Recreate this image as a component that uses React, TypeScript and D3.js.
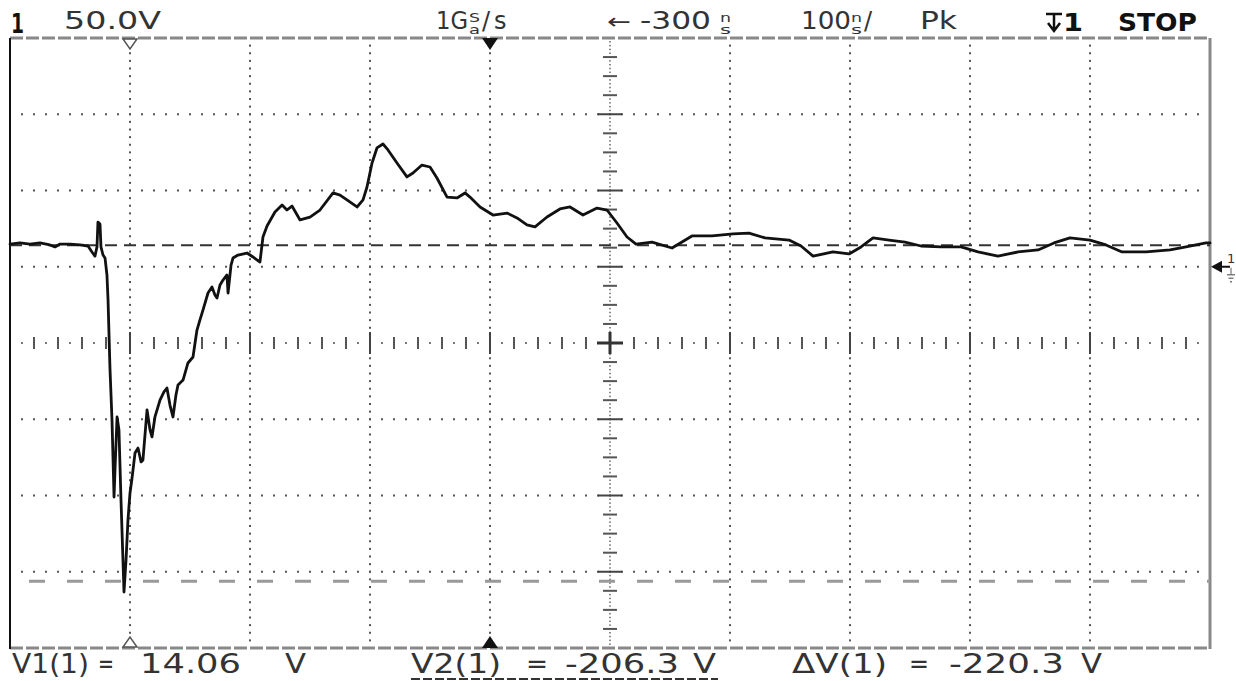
import React from 'react';
import * as d3 from 'd3';

// Captured channel 1 trace: time (ns) and voltage (V)
const times = [
  -800, -791.7, -783.3, -775, -766.7, -762.5, -758.3, -750, -741.7, -735,
  -731.7, -729.2, -727.5, -726.7, -725, -724.2, -722.5, -720.8, -719.2, -718.3,
  -716.7, -715, -713.3, -712.5, -710.8, -709.2, -707.5, -705, -703.3, -701.7,
  -700, -698.3, -695.8, -693.3, -690.8, -689.2, -685.8, -683.3, -681.7, -679.2,
  -675, -671.7, -669.2, -666.7, -664.2, -661.7, -660, -655.8, -651.7, -647.5,
  -644.2, -641.7, -639.2, -635, -631.7, -629.2, -627.5, -625, -622.5, -619.2,
  -618.3, -615.8, -614.2, -610, -602.5, -597.5, -591.7, -589.2, -585.8, -579.2,
  -573.3, -569.2, -565, -558.3, -550, -541.7, -530.8, -525, -519.2, -510.8,
  -505.8, -502.5, -498.3, -494.2, -489.2, -485, -477.5, -469.2, -464.2, -456.7,
  -450, -444.2, -435.8, -427.5, -420.8, -416.7, -408.3, -397.5, -385.8, -377.5,
  -369.2, -362.5, -352.5, -341.7, -333.3, -322.5, -310.8, -302.5, -294.2, -285.8,
  -278.3, -265, -248.3, -231.7, -215, -197.5, -184.2, -170.8, -150.8, -140.8,
  -130.8, -114.2, -100.8, -90.8, -80.8, -67.5, -54.2, -40.8, -24.2, -7.5,
  6.7, 23.3, 40, 56.7, 70, 83.3, 100, 113.3, 126.7, 146.7,
  166.7, 180, 196.7, 200,
];
const volts = [
  14.9, 15.6, 14.9, 15.6, 14.3, 13.0, 14.9, 14.9, 14.3, 13.6,
  9.7, 7.0, 13.0, 29.3, 28.0, 13.0, 7.7, 5.7, -5.4, -21.8,
  -66.4, -100.5, -151.0, -133.3, -98.5, -107.0, -152.9, -213.3, -192.3, -166.1,
  -148.4, -138.5, -122.1, -118.9, -128.0, -126.7, -93.9, -107.0, -111.6, -98.5,
  -87.4, -82.1, -79.5, -90.7, -98.5, -84.1, -77.5, -74.3, -63.1, -59.2,
  -41.5, -34.9, -28.4, -17.2, -13.3, -18.5, -20.5, -12.0, -8.7, -5.4,
  -17.2, 1.1, 5.7, 7.7, 9.0, 6.4, 3.1, 19.5, 26.7, 35.9,
  40.5, 37.2, 39.8, 30.7, 32.6, 37.2, 48.4, 47.0, 43.8, 39.2,
  43.8, 52.3, 68.0, 77.9, 80.5, 76.6, 68.0, 58.9, 61.5, 66.7,
  65.4, 58.2, 45.7, 45.1, 48.4, 45.7, 39.2, 33.9, 35.2, 32.0,
  27.4, 26.1, 32.6, 37.9, 39.2, 33.9, 38.5, 37.2, 28.7, 19.5,
  14.9, 16.2, 12.3, 20.2, 20.2, 21.5, 22.1, 18.9, 17.5, 13.6,
  7.0, 9.7, 8.4, 13.0, 18.9, 17.5, 16.2, 13.6, 13.0, 13.0,
  9.7, 7.0, 9.7, 11.0, 15.6, 18.9, 17.5, 14.3, 9.7, 9.7,
  11.0, 13.0, 15.6, 15.6,
];

// Scope settings and cursor readouts
const voltsPerDiv = 50;
const timePerDiv = 100;
const delayNs = -300;
const screenCenterV = -50;
const cursorV1 = 14.06;
const cursorV2 = -206.3;
const deltaV1 = -220.3;

const W = 1236;
const H = 681;
const L = 10;
const R = 1210;
const T = 38;
const B = 648;
const FONT = "'DejaVu Sans', 'Liberation Sans', sans-serif";
const INK = '#333';

function Txt(props: {
  x: number; y: number; w?: number; size: number; bold?: boolean; fill?: string; ls?: number; children: React.ReactNode;
}) {
  const { x, y, w, size, bold, fill, ls, children } = props;
  return (
    <text
      x={x}
      y={y}
      fontFamily={FONT}
      fontSize={size}
      fontWeight={bold ? 700 : 400}
      fill={fill || INK}
      letterSpacing={ls}
      textLength={w}
      lengthAdjust={w ? 'spacingAndGlyphs' : undefined}
    >
      {children}
    </text>
  );
}

export default function App() {
  const x = d3.scaleLinear()
    .domain([delayNs - 5 * timePerDiv, delayNs + 5 * timePerDiv])
    .range([L, R]);
  const y = d3.scaleLinear()
    .domain([screenCenterV - 4 * voltsPerDiv, screenCenterV + 4 * voltsPerDiv])
    .range([B, T]);

  const trace = d3.line<number>()
    .x((_, i) => x(times[i]))
    .y((d) => y(d))(volts) || '';

  const divT = d3.range(1, 10).map((k) => delayNs - 5 * timePerDiv + k * timePerDiv);
  const divV = d3.range(1, 8).map((k) => screenCenterV - 4 * voltsPerDiv + k * voltsPerDiv);

  const dots: React.ReactNode[] = [];
  // dotted horizontal graticule lines
  divV.forEach((v) => {
    if (v === screenCenterV) return;
    d3.range(1, 100).forEach((i) => {
      const t = delayNs - 5 * timePerDiv + i * (timePerDiv / 10);
      dots.push(<rect key={`h${v}_${i}`} x={x(t) - 1} y={y(v) - 1} width={2} height={2} fill="#555" />);
    });
  });
  // dotted vertical graticule lines
  divT.forEach((t) => {
    if (t === delayNs) return;
    d3.range(1, 80).forEach((j) => {
      const v = screenCenterV - 4 * voltsPerDiv + j * (voltsPerDiv / 10);
      dots.push(<rect key={`v${t}_${j}`} x={x(t) - 1} y={y(v) - 1} width={2} height={2} fill="#555" />);
    });
  });
  // center horizontal axis with ticks
  d3.range(1, 100).forEach((i) => {
    const t = delayNs - 5 * timePerDiv + i * (timePerDiv / 10);
    const cx = x(t);
    const cy = y(screenCenterV);
    if (i % 10 === 0) {
      dots.push(<rect key={`ch${i}`} x={cx - 1} y={cy - 11} width={2} height={22} fill="#444" />);
    } else if (i % 2 === 0) {
      dots.push(<rect key={`ch${i}`} x={cx - 1} y={cy - 6} width={2} height={12} fill="#555" />);
    } else {
      dots.push(<rect key={`ch${i}`} x={cx - 1} y={cy - 1} width={2} height={2} fill="#777" />);
    }
  });
  // center vertical axis with ticks
  d3.range(1, 160).forEach((j) => {
    const v = screenCenterV - 4 * voltsPerDiv + j * (voltsPerDiv / 20);
    const cx = x(delayNs);
    const cy = y(v);
    if (j % 20 === 0) {
      dots.push(<rect key={`cv${j}`} x={cx - 12} y={cy - 1} width={24} height={2} fill="#444" />);
    } else if (j % 5 === 0) {
      dots.push(<rect key={`cv${j}`} x={cx - 7} y={cy - 1} width={14} height={2} fill="#555" />);
    } else {
      dots.push(<rect key={`cv${j}`} x={cx - 0.75} y={cy - 0.75} width={1.5} height={1.5} fill="#666" />);
    }
  });

  const cx0 = x(delayNs);
  const cy0 = y(screenCenterV);
  const yG = y(0);
  const yV1 = y(cursorV1);
  const yV2 = y(cursorV2);
  const xMark1 = x(-700);
  const xMark2 = x(-400);

  return (
    <svg
      width={W}
      height={H}
      viewBox={`0 0 ${W} ${H}`}
      style={{ position: 'absolute', left: 0, top: 0, background: '#fff' }}
    >
      <rect x={0} y={0} width={W} height={H} fill="#fff" />
      {dots}
      {/* center cross */}
      <rect x={cx0 - 13} y={cy0 - 1.5} width={26} height={3} fill="#333" />
      <rect x={cx0 - 1.5} y={cy0 - 11} width={3} height={22} fill="#333" />

      {/* frame */}
      <line x1={L} x2={R} y1={T} y2={T} stroke="#888" strokeWidth={3} strokeDasharray="13 3" />
      <line x1={L} x2={R} y1={B} y2={B} stroke="#888" strokeWidth={3} strokeDasharray="13 3" />
      <line x1={L} x2={L} y1={T} y2={B + 1} stroke="#111" strokeWidth={2} />
      <line x1={R} x2={R} y1={T} y2={B + 1} stroke="#888" strokeWidth={3} />

      {/* voltage cursors */}
      <line x1={L} x2={R} y1={yV1} y2={yV1} stroke="#333" strokeWidth={2} strokeDasharray="12 7" />
      <line x1={L} x2={R} y1={yV2} y2={yV2} stroke="#999" strokeWidth={3} strokeDasharray="16 22" strokeDashoffset={19} />

      {/* trace */}
      <path d={trace} fill="none" stroke="#111" strokeWidth={2.8} strokeLinejoin="round" strokeLinecap="round" />

      {/* markers on the top and bottom edges */}
      <path d={`M${xMark1 - 7},${T + 1} L${xMark1 + 7},${T + 1} L${xMark1},${T + 11} Z`} fill="#fff" stroke="#555" strokeWidth={1.5} />
      <path d={`M${xMark1 - 7},${B - 1} L${xMark1 + 7},${B - 1} L${xMark1},${B - 11} Z`} fill="#fff" stroke="#555" strokeWidth={1.5} />
      <path d={`M${xMark2 - 8},${T} L${xMark2 + 8},${T} L${xMark2},${T + 12} Z`} fill="#111" />
      <path d={`M${xMark2 - 8},${B} L${xMark2 + 8},${B} L${xMark2},${B - 12} Z`} fill="#111" />

      {/* ground reference marker */}
      <path d={`M${R + 1},${yG} L${R + 12},${yG - 6} L${R + 12},${yG + 6} Z`} fill="#111" />
      <line x1={R + 12} x2={R + 20} y1={yG} y2={yG} stroke="#111" strokeWidth={2} />
      <Txt x={R + 17} y={yG - 4} size={13}>1</Txt>
      <line x1={R + 21} x2={R + 21} y1={yG + 1} y2={yG + 8} stroke="#777" strokeWidth={1.2} />
      <line x1={R + 17} x2={R + 25} y1={yG + 8} y2={yG + 8} stroke="#777" strokeWidth={1.4} />
      <line x1={R + 18.5} x2={R + 23.5} y1={yG + 11.5} y2={yG + 11.5} stroke="#777" strokeWidth={1.4} />
      <line x1={R + 20} x2={R + 22} y1={yG + 15} y2={yG + 15} stroke="#777" strokeWidth={1.4} />

      {/* status line */}
      <Txt x={11} y={33} w={13} size={27} bold fill="#111">1</Txt>
      <Txt x={64} y={29} w={97} size={24}>{`${voltsPerDiv.toFixed(1)}V`}</Txt>
      <Txt x={436} y={29} w={32} size={24}>1G</Txt>
      <Txt x={469} y={22} w={11} size={12}>S</Txt>
      <Txt x={469} y={34} w={11} size={12}>a</Txt>
      <Txt x={482} y={29} size={24} ls={4}>/s</Txt>
      <Txt x={607} y={29} w={24} size={22}>←</Txt>
      <Txt x={640} y={29} w={71} size={24}>{`${delayNs}`}</Txt>
      <Txt x={720} y={22} w={11} size={12}>n</Txt>
      <Txt x={720} y={34} w={11} size={12}>s</Txt>
      <Txt x={801} y={29} w={50} size={24}>{`${timePerDiv}`}</Txt>
      <Txt x={851} y={22} w={11} size={12}>n</Txt>
      <Txt x={851} y={34} w={11} size={12}>s</Txt>
      <Txt x={864} y={29} size={24}>/</Txt>
      <Txt x={920} y={29} w={37} size={24}>Pk</Txt>
      {/* trigger symbol */}
      <path d="M1046,14 L1062,14 M1054,14 L1054,30 M1048,23 L1054,31 L1060,23" fill="none" stroke="#111" strokeWidth={2.5} />
      <Txt x={1063} y={31} w={20} size={24} bold fill="#111">1</Txt>
      <Txt x={1118} y={31} w={79} size={24} bold fill="#111">STOP</Txt>

      {/* cursor readouts */}
      <Txt x={12} y={673} w={77} size={27}>V1(1)</Txt>
      <Txt x={98} y={673} w={16} size={27}>=</Txt>
      <Txt x={140} y={673} w={101} size={27}>{cursorV1.toFixed(2)}</Txt>
      <Txt x={285} y={673} w={21} size={27}>V</Txt>

      <Txt x={411} y={673} w={90} size={27}>V2(1)</Txt>
      <Txt x={526} y={673} w={22} size={27}>=</Txt>
      <Txt x={565} y={673} w={114} size={27}>{cursorV2.toFixed(1)}</Txt>
      <Txt x={693} y={673} w={23} size={27}>V</Txt>
      <line x1={411} x2={718} y1={679} y2={679} stroke="#333" strokeWidth={2} strokeDasharray="9 3" />

      <Txt x={792} y={673} w={95} size={27}>ΔV(1)</Txt>
      <Txt x={909} y={673} w={20} size={27}>=</Txt>
      <Txt x={949} y={673} w={115} size={27}>{deltaV1.toFixed(1)}</Txt>
      <Txt x={1081} y={673} w={21} size={27}>V</Txt>
    </svg>
  );
}
